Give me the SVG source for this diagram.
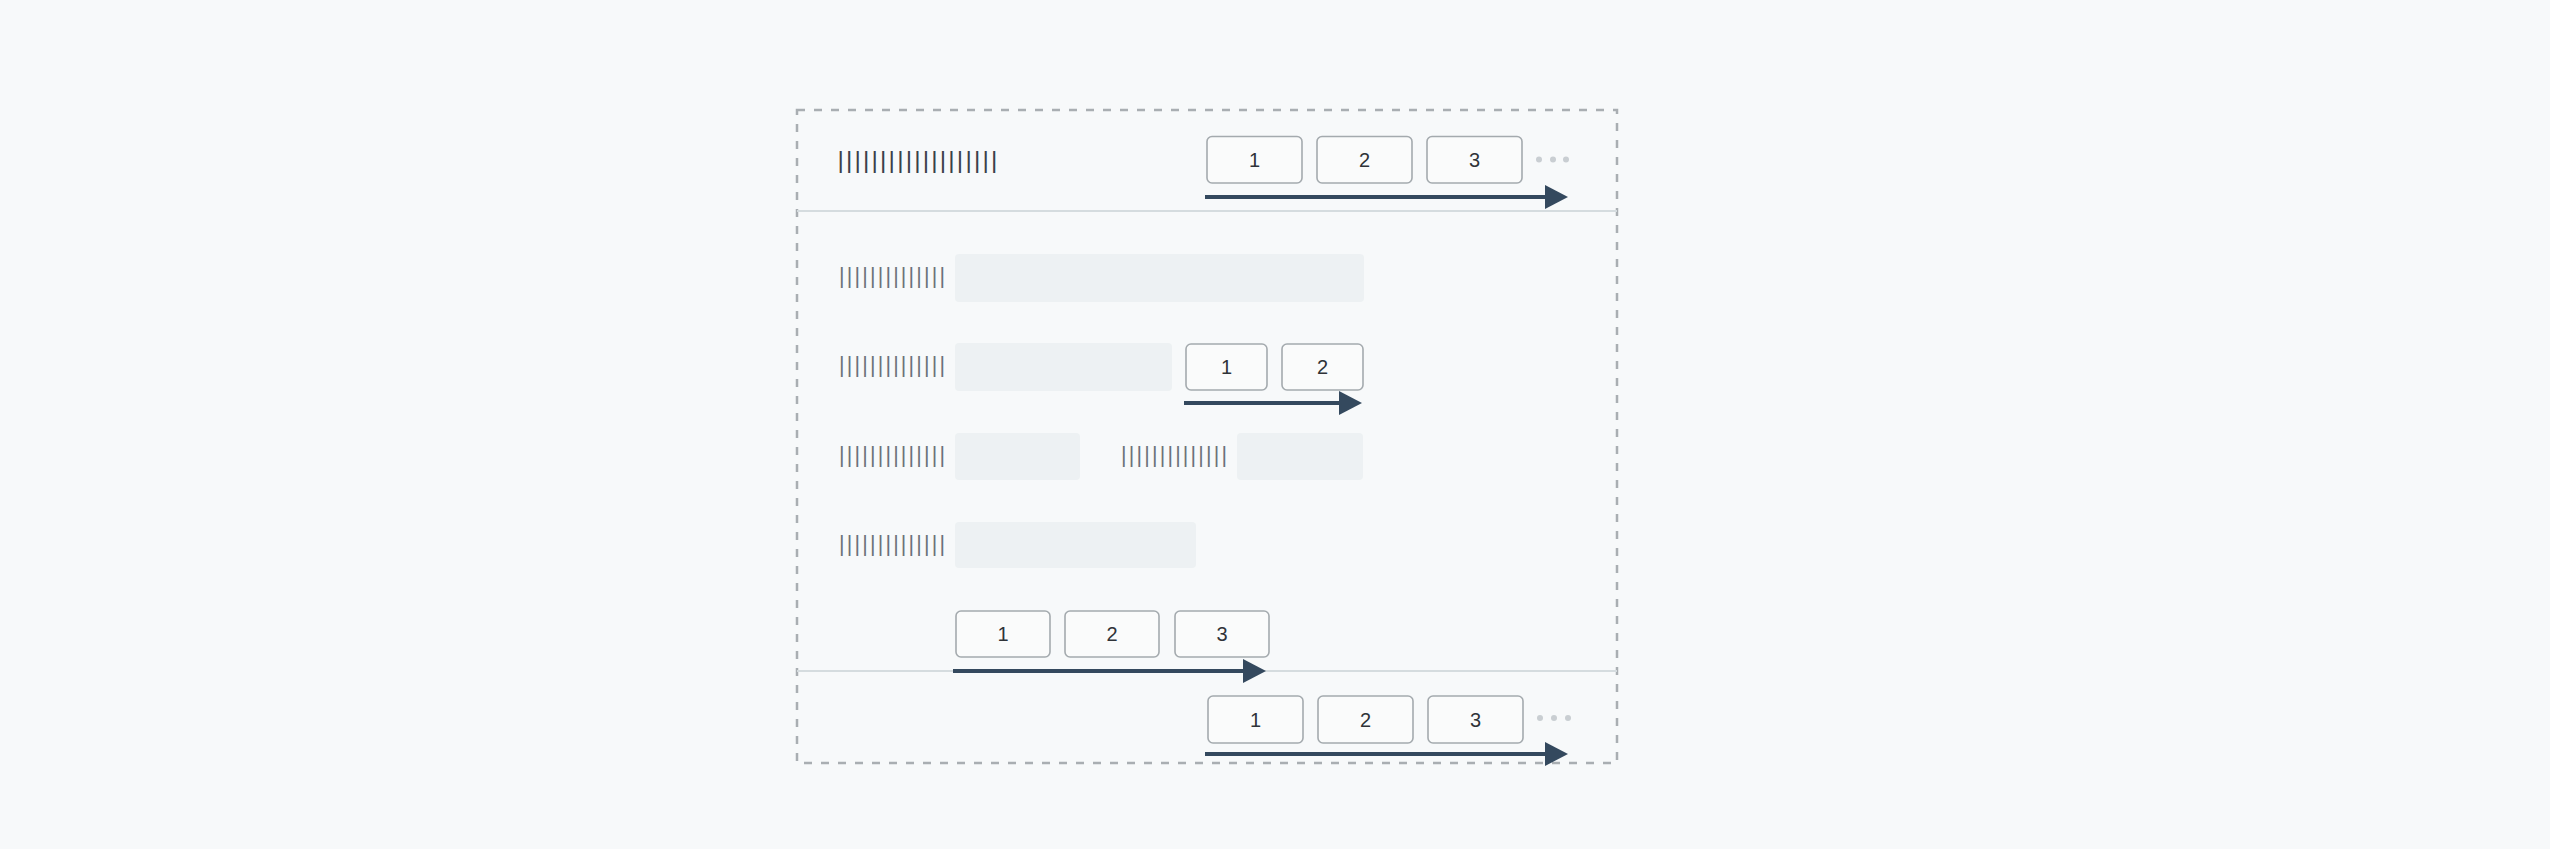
<svg xmlns="http://www.w3.org/2000/svg" width="2550" height="849" viewBox="0 0 2550 849">
  <style>
    .frame { fill: none; stroke: #a9aeb2; stroke-width: 2.5; stroke-dasharray: 8 9; }
    .sep { stroke: #d5dcdf; stroke-width: 2; }
    .btn { fill: #fafbfb; stroke: #a4aaae; stroke-width: 1.6; }
    .btxt { font-family: "Liberation Sans", Arial, sans-serif; font-size: 20px; fill: #2f3338; text-anchor: middle; }
    .field { fill: #edf1f3; }
    .hlabel { font-family: "Liberation Sans", Arial, sans-serif; font-size: 24.5px; fill: #3a4049; letter-spacing: 2.17px; }
    .blabel { font-family: "Liberation Sans", Arial, sans-serif; font-size: 21.3px; fill: #6b7178; letter-spacing: 2.2px; }
    .dot { fill: #c9ced2; }
    .arrow { stroke: #34495e; stroke-width: 4; fill: none; marker-end: url(#head); }
  </style>
  <defs>
    <marker id="head" viewBox="0 0 23 24" refX="1" refY="12" markerWidth="23" markerHeight="24" markerUnits="userSpaceOnUse" orient="auto">
      <path d="M0,0 L23,12 L0,24 z" fill="#34495e"/>
    </marker>
  </defs>
  <rect width="2550" height="849" fill="#f7f9fa"/>

  <g id="frame">
    <rect class="frame" x="797" y="110" width="820" height="653"/>
    <line class="sep" x1="797" y1="211" x2="1617" y2="211"/>
    <line class="sep" x1="797" y1="671" x2="1617" y2="671"/>
  </g>

  <g id="header">
    <text class="hlabel" x="837.4" y="168.2">|||||||||||||||||||</text>
    <g id="header-btn-1"><rect class="btn" x="1207" y="136.5" width="95" height="46.5" rx="5"/><text class="btxt" x="1254.5" y="166.5">1</text></g>
    <g id="header-btn-2"><rect class="btn" x="1317" y="136.5" width="95" height="46.5" rx="5"/><text class="btxt" x="1364.5" y="166.5">2</text></g>
    <g id="header-btn-3"><rect class="btn" x="1427" y="136.5" width="95" height="46.5" rx="5"/><text class="btxt" x="1474.5" y="166.5">3</text></g>
    <g id="header-more"><circle class="dot" cx="1539" cy="159.5" r="3"/><circle class="dot" cx="1553" cy="159.5" r="3"/><circle class="dot" cx="1566" cy="159.5" r="3"/></g>
  </g>

  <g id="row-1">
    <text class="blabel" x="839" y="282.5">||||||||||||||</text>
    <rect class="field" x="955" y="254" width="409" height="48" rx="4"/>
  </g>

  <g id="row-2">
    <text class="blabel" x="839" y="371.5">||||||||||||||</text>
    <rect class="field" x="955" y="343" width="217" height="48" rx="4"/>
    <g id="row2-btn-1"><rect class="btn" x="1186" y="344" width="81" height="46" rx="5"/><text class="btxt" x="1226.5" y="374">1</text></g>
    <g id="row2-btn-2"><rect class="btn" x="1282" y="344" width="81" height="46" rx="5"/><text class="btxt" x="1322.5" y="374">2</text></g>
  </g>

  <g id="row-3">
    <text class="blabel" x="839" y="461.5">||||||||||||||</text>
    <rect class="field" x="955" y="433" width="125" height="47" rx="4"/>
    <text class="blabel" x="1121" y="461.5">||||||||||||||</text>
    <rect class="field" x="1237" y="433" width="126" height="47" rx="4"/>
  </g>

  <g id="row-4">
    <text class="blabel" x="839" y="550.5">||||||||||||||</text>
    <rect class="field" x="955" y="522" width="241" height="46" rx="4"/>
  </g>

  <g id="row-5">
    <g id="row5-btn-1"><rect class="btn" x="956" y="611" width="94" height="46" rx="5"/><text class="btxt" x="1003" y="641">1</text></g>
    <g id="row5-btn-2"><rect class="btn" x="1065" y="611" width="94" height="46" rx="5"/><text class="btxt" x="1112" y="641">2</text></g>
    <g id="row5-btn-3"><rect class="btn" x="1175" y="611" width="94" height="46" rx="5"/><text class="btxt" x="1222" y="641">3</text></g>
  </g>

  <g id="footer">
    <g id="footer-btn-1"><rect class="btn" x="1208" y="696" width="95" height="47" rx="5"/><text class="btxt" x="1255.5" y="726.5">1</text></g>
    <g id="footer-btn-2"><rect class="btn" x="1318" y="696" width="95" height="47" rx="5"/><text class="btxt" x="1365.5" y="726.5">2</text></g>
    <g id="footer-btn-3"><rect class="btn" x="1428" y="696" width="95" height="47" rx="5"/><text class="btxt" x="1475.5" y="726.5">3</text></g>
    <g id="footer-more"><circle class="dot" cx="1540" cy="718" r="3"/><circle class="dot" cx="1554" cy="718" r="3"/><circle class="dot" cx="1568" cy="718" r="3"/></g>
  </g>

  <g id="connectors">
    <line class="arrow" x1="1205" y1="197" x2="1546" y2="197"/>
    <line class="arrow" x1="1184" y1="403" x2="1340" y2="403"/>
    <line class="arrow" x1="953" y1="671" x2="1244" y2="671"/>
    <line class="arrow" x1="1205" y1="754" x2="1546" y2="754"/>
  </g>
</svg>
